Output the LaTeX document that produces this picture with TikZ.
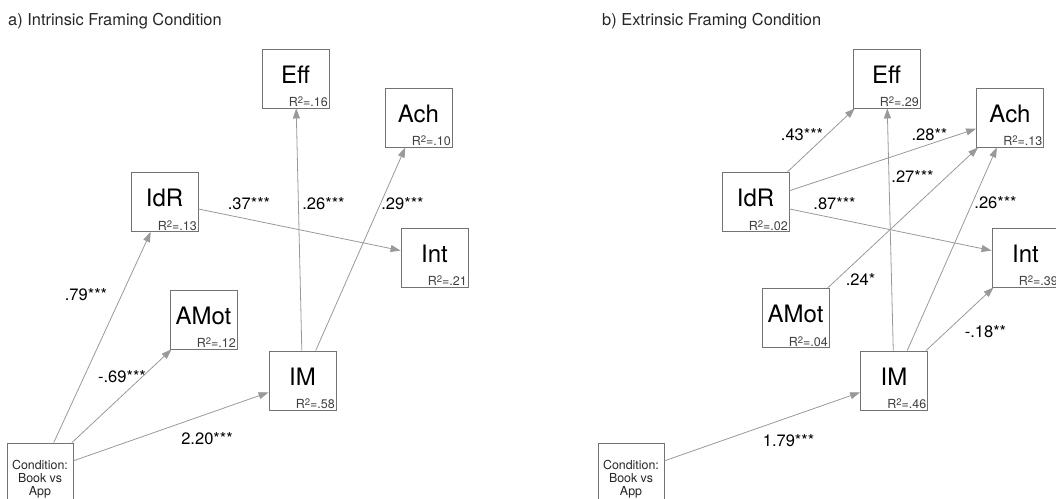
\documentclass[tikz,border=0pt]{standalone}
\usepackage{fontspec}
\setmainfont{TeX Gyre Heros}
\usetikzlibrary{arrows.meta}

\newcommand{\rtwo}[1]{R\raisebox{0.45ex}{\fontsize{9.5}{9.5}\selectfont 2}=#1}

\begin{document}
\begin{tikzpicture}[x=1pt, y=-1pt,
    var/.style={draw=black!55, line width=0.9pt, minimum width=67pt, minimum height=59pt,
      inner sep=0pt, font=\fontsize{24}{24}\selectfont, text height=17pt, text depth=8pt},
    rsq/.style={anchor=south east, inner sep=1.5pt, font=\fontsize{12.5}{12.5}\selectfont, text=black!75},
    condbox/.style={draw=black!55, line width=0.9pt, minimum width=66pt, minimum height=59pt,
      inner sep=0pt, align=center, font=\fontsize{12.4}{13}\selectfont, text=black!85},
    link/.style={draw=gray!80, line width=0.8pt, -{Triangle[length=10pt,width=7pt]}},
    coef/.style={inner sep=0pt, font=\fontsize{16.5}{16.5}\selectfont},
    heading/.style={anchor=base west, inner sep=0pt, font=\fontsize{16.4}{16.4}\selectfont, text=black!85}]
  \useasboundingbox (0,0) rectangle (1056,498);

  % a) intrinsic framing
  \node[heading] (titleA) at (8,25) {a) Intrinsic Framing Condition};
  \node[var, label={[rsq]south east:{\rtwo{.16}}}] (effA) at (295.5,78.5) {Eff};
  \node[var, label={[rsq]south east:{\rtwo{.10}}}] (achA) at (418.5,117.5) {Ach};
  \node[var, label={[rsq]south east:{\rtwo{.13}}}] (idrA) at (164.5,202) {IdR};
  \node[var, label={[rsq]south east:{\rtwo{.21}}}] (intA) at (434.5,257.5) {Int};
  \node[var, label={[rsq]south east:{\rtwo{.12}}}] (amotA) at (203.5,319.5) {AMot};
  \node[var, label={[rsq]south east:{\rtwo{.58}}}] (imA) at (302.5,380.5) {IM};
  \node[condbox] (condA) at (40,472.5) {\rule{0pt}{22pt}Condition:\\Book vs\\App};

  \draw[link] (condA) -- (idrA);
  \draw[link] (condA) -- (amotA);
  \draw[link] (condA) -- (imA);
  \draw[link] (idrA) -- (intA);
  \draw[link] (imA) -- (effA);
  \draw[link] (imA) -- (achA);

  \node[coef] (cIdrA) at (86,295) {.79***};
  \node[coef] (cAmotA) at (122,377) {-.69***};
  \node[coef] (cImA) at (207,439) {2.20***};
  \node[coef] (cIntA) at (249,204) {.37***};
  \node[coef] (cEffA) at (323.5,204) {.26***};
  \node[coef] (cAchA) at (402.5,204) {.29***};

  % b) extrinsic framing
  \node[heading] (titleB) at (602,25) {b) Extrinsic Framing Condition};
  \node[var, label={[rsq]south east:{\rtwo{.29}}}] (effB) at (886.5,78.5) {Eff};
  \node[var, label={[rsq]south east:{\rtwo{.13}}}] (achB) at (1010,117.5) {Ach};
  \node[var, label={[rsq]south east:{\rtwo{.02}}}] (idrB) at (755.5,202) {IdR};
  \node[var, label={[rsq]south east:{\rtwo{.39}}}] (intB) at (1025.5,257.5) {Int};
  \node[var, label={[rsq]south east:{\rtwo{.04}}}] (amotB) at (795.5,318) {AMot};
  \node[var, label={[rsq]south east:{\rtwo{.46}}}] (imB) at (894,380.5) {IM};
  \node[condbox] (condB) at (631,472.5) {\rule{0pt}{22pt}Condition:\\Book vs\\App};

  \draw[link] (idrB) -- (effB);
  \draw[link] (idrB) -- (achB);
  \draw[link] (idrB) -- (intB);
  \draw[link] (amotB) -- (achB);
  \draw[link] (imB) -- (effB);
  \draw[link] (imB) -- (achB);
  \draw[link] (imB) -- (intB);
  \draw[link] (condB) -- (imB);

  \node[coef] (cEffB) at (802,135) {.43***};
  \node[coef] (cAchB) at (929.5,135) {.28**};
  \node[coef] (cImEffB) at (912.5,176) {.27***};
  \node[coef] (cIntB) at (834.5,204) {.87***};
  \node[coef] (cImAchB) at (995.5,202.5) {.26***};
  \node[coef] (cAmotB) at (860.5,279) {.24*};
  \node[coef] (cImIntB) at (985.5,331.5) {-.18**};
  \node[coef] (cImB) at (788.5,440.5) {1.79***};
\end{tikzpicture}
\end{document}
